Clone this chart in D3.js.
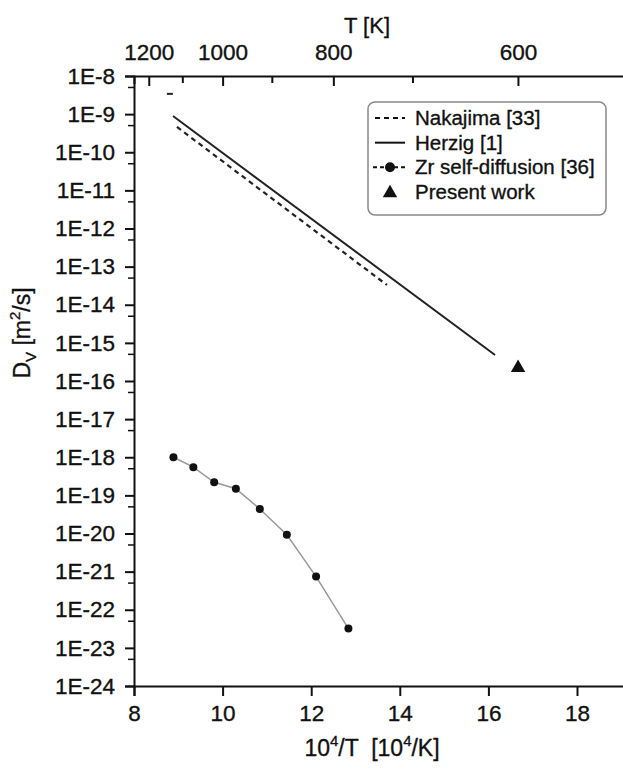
<!DOCTYPE html>
<html>
<head>
<meta charset="utf-8">
<script src="https://cdn.jsdelivr.net/npm/d3@7"></script>
<style>
  body { margin: 0; background: #fff; }
  svg text { font-family: "Liberation Sans", Arial, sans-serif; fill: #111; stroke: #111; stroke-width: 0.35px; }
</style>
</head>
<body>
<svg id="chart"></svg>
<script>
// data (x = 10^4/T, y = Dv in m^2/s)
var herzigX = [8.88, 16.15];
var herzigY = [8.9e-10, 4.8e-16];
var nakajimaX = [8.97, 13.71];
var nakajimaY = [4.6e-10, 3.3e-14];
var zrX = [8.89, 9.34, 9.81, 10.30, 10.84, 11.45, 12.11, 12.84];
var zrY = [1.0e-18, 5.5e-19, 2.2e-19, 1.5e-19, 4.4e-20, 9.3e-21, 7.4e-22, 3.2e-23];
var presentX = [16.67];
var presentY = [2.2e-16];
var strayX = [8.81];
var strayY = [3.4e-9];

var xTicks = [8, 10, 12, 14, 16, 18];
var yTicks = [-8,-9,-10,-11,-12,-13,-14,-15,-16,-17,-18,-19,-20,-21,-22,-23,-24];
var tempTicks = [1200, 1100, 1000, 900, 800, 700, 600];
var tempLabels = [1200, 1000, 800, 600];

var legendNames = ["Nakajima [33]", "Herzig [1]", "Zr self-diffusion [36]", "Present work"];

var width = 623, height = 772;
var svg = d3.select('#chart')
	.attr("width", width)
	.attr("height", height);

var xScale = d3.scaleLinear()
	.domain([8, 19.5])
	.range([134, 134 + 11.5 * 44.3]);

var yScale = d3.scaleLog()
	.domain([1e-24, 1e-8])
	.range([686, 76]);

var fs = 22.5;

// bottom axis
var xAxis = d3.axisBottom(xScale).tickValues(xTicks).tickSize(10).tickPadding(9)
	.tickFormat(d3.format("d"));
var gx = svg.append("g").attr("transform", "translate(0,686)").call(xAxis);

// top axis in T [K]
var gt = svg.append("g").attr("transform", "translate(0,76)")
	.call(d3.axisTop(xScale).tickValues(tempTicks.map(function(t){ return 1e4 / t; }))
		.tickSize(-8).tickPadding(16)
		.tickFormat(function(d){
			var t = Math.round(1e4 / d);
			return tempLabels.indexOf(t) >= 0 ? t : "";
		}));
gt.selectAll(".tick line").attr("y2", function(d){
	var t = Math.round(1e4 / d);
	return tempLabels.indexOf(t) >= 0 ? 10 : 7;
});

// left axis
var yAxis = d3.axisLeft(yScale)
	.tickValues(yTicks.map(function(e){ return Math.pow(10, e); }))
	.tickSize(9).tickPadding(10)
	.tickFormat(function(d){ return "1E" + Math.round(Math.log10(d)); });
var gy = svg.append("g").attr("transform", "translate(134,0)").call(yAxis);

// minor ticks at 5E-n
svg.append("g").selectAll("line")
	.data(yTicks.slice(1))
	.enter().append("line")
	.attr("x1", 128).attr("x2", 134)
	.attr("y1", function(e){ return yScale(5 * Math.pow(10, e)); })
	.attr("y2", function(e){ return yScale(5 * Math.pow(10, e)); })
	.attr("stroke", "#111").attr("stroke-width", 1.5);

[gx, gt, gy].forEach(function(g){
	g.selectAll("path.domain").attr("stroke", "#111").attr("stroke-width", 2);
	g.selectAll(".tick line").attr("stroke", "#111").attr("stroke-width", 2);
	g.selectAll("text").attr("font-size", fs).attr("fill", "#111");
});

// axis titles
var xt = svg.append("text").attr("x", 372).attr("y", 756)
	.attr("text-anchor", "middle").attr("font-size", 23);
xt.append("tspan").text("10");
xt.append("tspan").attr("dy", -10).attr("font-size", 15).text("4");
xt.append("tspan").attr("dy", 10).attr("xml:space", "preserve").text("/T  [10");
xt.append("tspan").attr("dy", -10).attr("font-size", 15).text("4");
xt.append("tspan").attr("dy", 10).text("/K]");

svg.append("text").attr("x", 367).attr("y", 33)
	.attr("text-anchor", "middle").attr("font-size", 22).text("T [K]");

var yt = svg.append("text").attr("transform", "translate(30,333) rotate(-90)")
	.attr("text-anchor", "middle").attr("font-size", 23);
yt.append("tspan").text("D");
yt.append("tspan").attr("dy", 6).attr("font-size", 15).text("V");
yt.append("tspan").attr("dy", -6).text(" [m");
yt.append("tspan").attr("dy", -10).attr("font-size", 15).text("2");
yt.append("tspan").attr("dy", 10).text("/s]");

// series
var line = d3.line()
	.x(function(d){ return xScale(d[0]); })
	.y(function(d){ return yScale(d[1]); });

svg.append("path")
	.datum(d3.zip(herzigX, herzigY))
	.attr("d", line).attr("fill", "none")
	.attr("stroke", "#222").attr("stroke-width", 2);

svg.append("path")
	.datum(d3.zip(nakajimaX, nakajimaY))
	.attr("d", line).attr("fill", "none")
	.attr("stroke", "#222").attr("stroke-width", 2.2)
	.attr("stroke-dasharray", "5,4");

svg.selectAll(".stray")
	.data(d3.zip(strayX, strayY))
	.enter().append("line").attr("class", "stray")
	.attr("x1", function(d){ return xScale(d[0]) - 3; })
	.attr("x2", function(d){ return xScale(d[0]) + 3; })
	.attr("y1", function(d){ return yScale(d[1]); })
	.attr("y2", function(d){ return yScale(d[1]); })
	.attr("stroke", "#222").attr("stroke-width", 2);

var zrData = d3.zip(zrX, zrY);
svg.append("path")
	.datum(zrData)
	.attr("d", line).attr("fill", "none")
	.attr("stroke", "#999").attr("stroke-width", 1.5);

svg.selectAll(".zr")
	.data(zrData)
	.enter().append("circle").attr("class", "zr")
	.attr("cx", function(d){ return xScale(d[0]); })
	.attr("cy", function(d){ return yScale(d[1]); })
	.attr("r", 4).attr("fill", "#111");

var tri = d3.symbol().type(d3.symbolTriangle).size(90);
svg.selectAll(".pw")
	.data(d3.zip(presentX, presentY))
	.enter().append("path").attr("class", "pw")
	.attr("d", tri)
	.attr("transform", function(d){ return "translate(" + xScale(d[0]) + "," + yScale(d[1]) + ")"; })
	.attr("fill", "#111");

// legend
var lg = svg.append("g");
lg.append("rect")
	.attr("x", 368).attr("y", 102).attr("width", 238).attr("height", 113)
	.attr("rx", 7).attr("fill", "#fff").attr("stroke", "#888").attr("stroke-width", 1.5);

var rowY = d3.scalePoint().domain(legendNames).range([118, 192]);
lg.selectAll("text")
	.data(legendNames)
	.enter().append("text")
	.attr("x", 415).attr("y", function(d){ return rowY(d) + 7; })
	.attr("font-size", 20.5).text(function(d){ return d; });

lg.append("line").attr("x1", 375).attr("x2", 405)
	.attr("y1", rowY(legendNames[0])).attr("y2", rowY(legendNames[0]))
	.attr("stroke", "#111").attr("stroke-width", 2).attr("stroke-dasharray", "5,4");
lg.append("line").attr("x1", 375).attr("x2", 405)
	.attr("y1", rowY(legendNames[1])).attr("y2", rowY(legendNames[1]))
	.attr("stroke", "#111").attr("stroke-width", 2);
lg.append("line").attr("x1", 373).attr("x2", 407)
	.attr("y1", rowY(legendNames[2])).attr("y2", rowY(legendNames[2]))
	.attr("stroke", "#111").attr("stroke-width", 2).attr("stroke-dasharray", "4,3");
lg.append("circle").attr("cx", 390).attr("cy", rowY(legendNames[2])).attr("r", 5).attr("fill", "#111");
lg.append("path").attr("d", tri)
	.attr("transform", "translate(390," + (rowY(legendNames[3]) + 1) + ")").attr("fill", "#111");
</script>
</body>
</html>
